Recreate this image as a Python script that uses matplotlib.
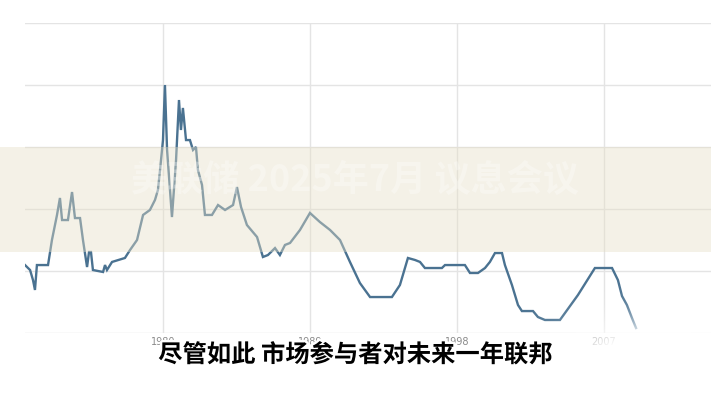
import numpy as np
import matplotlib
matplotlib.use("Agg")
import matplotlib.pyplot as plt
import matplotlib.patheffects as pe
from matplotlib.patches import Rectangle

plt.rcParams['font.family'] = ['Noto Sans CJK SC', 'DejaVu Sans']

# Data (year, rate %)
years = [1971.55, 1971.86, 1972.04, 1972.16, 1972.28, 1972.96, 1973.20, 1973.51, 1973.69, 1973.82,
         1974.18, 1974.43, 1974.61, 1974.92, 1975.10, 1975.35, 1975.47, 1975.59, 1975.71, 1976.33,
         1976.45, 1976.57, 1976.88, 1977.67, 1977.98, 1978.41, 1978.78, 1979.20, 1979.51, 1979.69,
         1979.82, 1980.00, 1980.12, 1980.25, 1980.55, 1980.80, 1980.98, 1981.10, 1981.22, 1981.41,
         1981.65, 1981.84, 1982.02, 1982.14, 1982.39, 1982.57, 1983.00, 1983.37, 1983.80, 1984.29,
         1984.53, 1984.78, 1985.14, 1985.76, 1986.12, 1986.43, 1986.86, 1987.16, 1987.47, 1987.78,
         1988.39, 1989.00, 1989.61, 1990.23, 1990.84, 1991.45, 1992.06, 1992.68, 1994.02, 1994.51,
         1995.00, 1995.43, 1995.74, 1996.04, 1997.08, 1997.27, 1998.49, 1998.80, 1999.29, 1999.72,
         2000.02, 2000.33, 2000.76, 2000.94, 2001.37, 2001.74, 2001.98, 2002.66, 2002.96, 2003.39,
         2004.31, 2005.41, 2006.45, 2007.50, 2007.86, 2008.11, 2008.41, 2008.72, 2008.97]
rates = [5.48, 5.08, 4.27, 3.47, 5.48, 5.48, 7.50, 9.52, 10.89, 9.11,
         9.11, 11.37, 9.27, 9.27, 7.50, 5.32, 6.53, 6.53, 5.08, 4.92,
         5.48, 5.08, 5.73, 6.05, 6.69, 7.50, 9.52, 9.92, 10.73, 11.53,
         13.15, 15.56, 20.00, 14.76, 9.35, 13.95, 18.79, 16.37, 18.15, 15.56,
         15.56, 14.76, 15.00, 13.15, 11.94, 9.52, 9.52, 10.32, 9.92, 10.32,
         11.77, 10.16, 8.71, 7.74, 6.13, 6.29, 6.85, 6.29, 7.10, 7.26,
         8.31, 9.68, 8.95, 8.31, 7.50, 5.73, 4.03, 2.90, 2.90, 3.87,
         6.05, 5.89, 5.73, 5.24, 5.24, 5.48, 5.48, 4.84, 4.84, 5.24,
         5.73, 6.45, 6.45, 5.48, 3.87, 2.26, 1.77, 1.77, 1.29, 1.05,
         1.05, 3.06, 5.24, 5.24, 4.27, 2.98, 2.26, 1.21, 0.40]
xtick_years = [1980, 1989, 1998, 2007]
xtick_labels = ["1980", "1989", "1998", "2007"]
ytick_vals = [0, 5, 10, 15, 20, 25]
subtitle = "尽管如此 市场参与者对未来一年联邦"
band_text = "美联储 2025年7月 议息会议"

W, H = 711, 400
fig = plt.figure(figsize=(W / 100, H / 100), dpi=100)
fig.patch.set_facecolor('white')

ax = fig.add_axes([25 / W, 67 / H, 686 / W, 310 / H])
ax.set_facecolor('white')
ax.plot(years, rates, color='#4a7291', lw=1.7, solid_joinstyle='miter')
ax.set_xlim(1971.55, 2013.56)
ax.set_ylim(0, 25)
ax.set_xticks(xtick_years)
ax.set_xticklabels(xtick_labels, fontsize=7, color='#8a8a8a', family='DejaVu Sans')
ax.set_yticks(ytick_vals)
ax.set_yticklabels([])
ax.tick_params(length=0, pad=3)
ax.grid(True, color='#e4e4e4', lw=1.0)
ax.set_axisbelow(True)
for s in ax.spines.values():
    s.set_visible(False)

# Overlay band (semi-transparent beige)
fig.patches.append(Rectangle((0, (H - 252) / H), 1, 105 / H, transform=fig.transFigure,
                             facecolor='#e6dfc6', alpha=0.42, edgecolor='none', zorder=5))
fig.text(355 / W, (H - 180) / H, band_text, ha='center', va='center', fontsize=26,
         color='white', alpha=0.3, fontweight='bold', zorder=6)

# Soft white blur bottom-right
ov = fig.add_axes([0, 0, 1, 1], zorder=7)
ov.set_axis_off()
yy, xx = np.mgrid[0:H, 0:W]
alpha = np.exp(-(((xx - 665) / 90.0) ** 2 + ((yy - 365) / 40.0) ** 2))
alpha = np.clip(alpha * 1.8, 0, 0.97)
img = np.ones((H, W, 4))
img[..., 3] = alpha
ov.imshow(img, extent=[0, W, H, 0], interpolation='bilinear')
ov.set_xlim(0, W)
ov.set_ylim(H, 0)

# Subtitle
fig.text(355 / W, (H - 355) / H, subtitle, ha='center', va='center', fontsize=17.5,
         color='black', fontweight='bold', zorder=10,
         path_effects=[pe.withStroke(linewidth=3.5, foreground='white')])

fig.savefig('out.png', dpi=100)
